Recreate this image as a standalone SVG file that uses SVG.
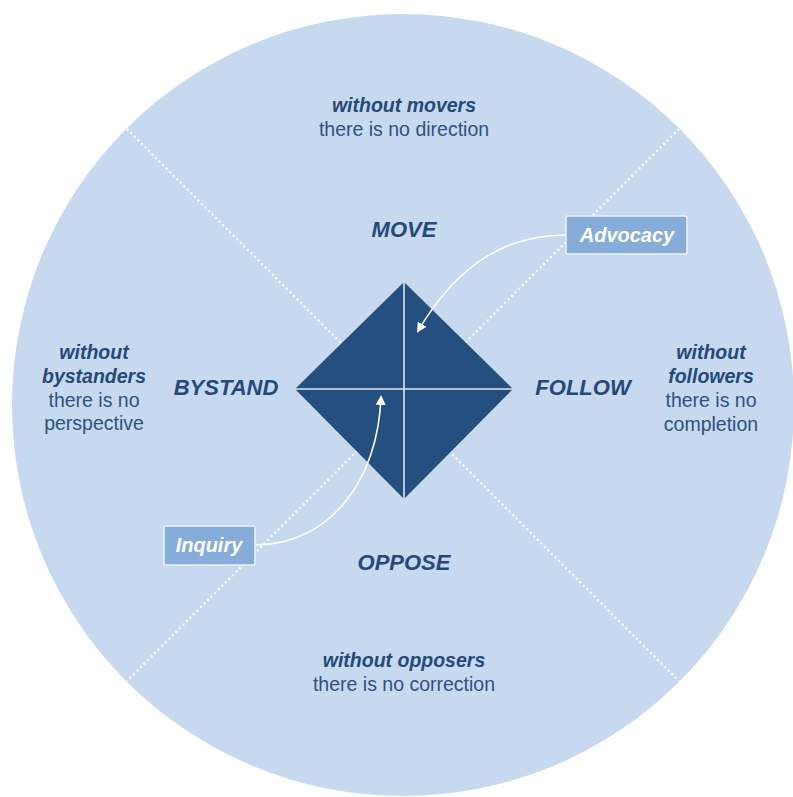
<svg xmlns="http://www.w3.org/2000/svg" width="793" height="797" viewBox="0 0 793 797">
<style>
  .t { font-family: "Liberation Sans", Arial, sans-serif; fill: #2d5283; text-anchor: middle; font-size: 19.5px; }
  .bi { font-weight: bold; font-style: italic; fill: #24497a; }
  .lbl { font-family: "Liberation Sans", Arial, sans-serif; font-weight: bold; font-style: italic; font-size: 22px; fill: #24497a; text-anchor: middle; }
  .box { fill: #86acd9; stroke: #eef3fa; stroke-width: 1.5; }
  .boxt { font-family: "Liberation Sans", Arial, sans-serif; font-weight: bold; font-style: italic; font-size: 20px; fill: #ffffff; text-anchor: middle; }
  .dot { stroke: #ffffff; stroke-width: 2.2; stroke-dasharray: 2 3; fill: none; }
  .arr { stroke: #ffffff; stroke-width: 1.6; fill: none; marker-end: url(#ah); }
</style>
<defs>
  <marker id="ah" markerWidth="10" markerHeight="10" refX="8" refY="5" orient="auto" markerUnits="userSpaceOnUse">
    <path d="M0,0 L10,5 L0,10 Z" fill="#ffffff"/>
  </marker>
</defs>
<rect width="793" height="797" fill="#ffffff"/>
<g id="background">
  <circle cx="403" cy="405" r="391" fill="#c6d9ef"/>
  <line class="dot" x1="127" y1="129" x2="679" y2="681"/>
  <line class="dot" x1="679" y1="129" x2="127" y2="681"/>
</g>
<g id="diamond">
  <polygon points="404,282 513,389 404,499 295,389" fill="#254f7e"/>
  <line x1="404" y1="282" x2="404" y2="499" stroke="#dde6f1" stroke-width="1.6"/>
  <line x1="295" y1="389" x2="513" y2="389" stroke="#dde6f1" stroke-width="1.6"/>
</g>
<g id="move">
  <text class="lbl" x="404" y="237">MOVE</text>
</g>
<g id="bystand">
  <text class="lbl" x="226" y="395">BYSTAND</text>
</g>
<g id="follow">
  <text class="lbl" x="583" y="395">FOLLOW</text>
</g>
<g id="oppose">
  <text class="lbl" x="404" y="570">OPPOSE</text>
</g>
<g id="movers-note">
  <text class="t bi" x="404" y="112">without movers</text>
  <text class="t" x="404" y="136">there is no direction</text>
</g>
<g id="bystanders-note">
  <text class="t bi" x="94" y="359">without</text>
  <text class="t bi" x="94" y="383">bystanders</text>
  <text class="t" x="94" y="407">there is no</text>
  <text class="t" x="94" y="430">perspective</text>
</g>
<g id="followers-note">
  <text class="t bi" x="711" y="359">without</text>
  <text class="t bi" x="711" y="383">followers</text>
  <text class="t" x="711" y="407">there is no</text>
  <text class="t" x="711" y="431">completion</text>
</g>
<g id="opposers-note">
  <text class="t bi" x="404" y="667">without opposers</text>
  <text class="t" x="404" y="691">there is no correction</text>
</g>
<g id="connectors">
  <path class="arr" d="M566,235 C510,235 460,260 418,331"/>
  <path class="arr" d="M255,545 C330,545 378,480 381,397"/>
</g>
<g id="advocacy">
  <rect class="box" x="566" y="216" width="121" height="38" rx="2"/>
  <text class="boxt" x="627" y="242">Advocacy</text>
</g>
<g id="inquiry">
  <rect class="box" x="164" y="526" width="91" height="39" rx="2"/>
  <text class="boxt" x="209" y="552">Inquiry</text>
</g>
</svg>
